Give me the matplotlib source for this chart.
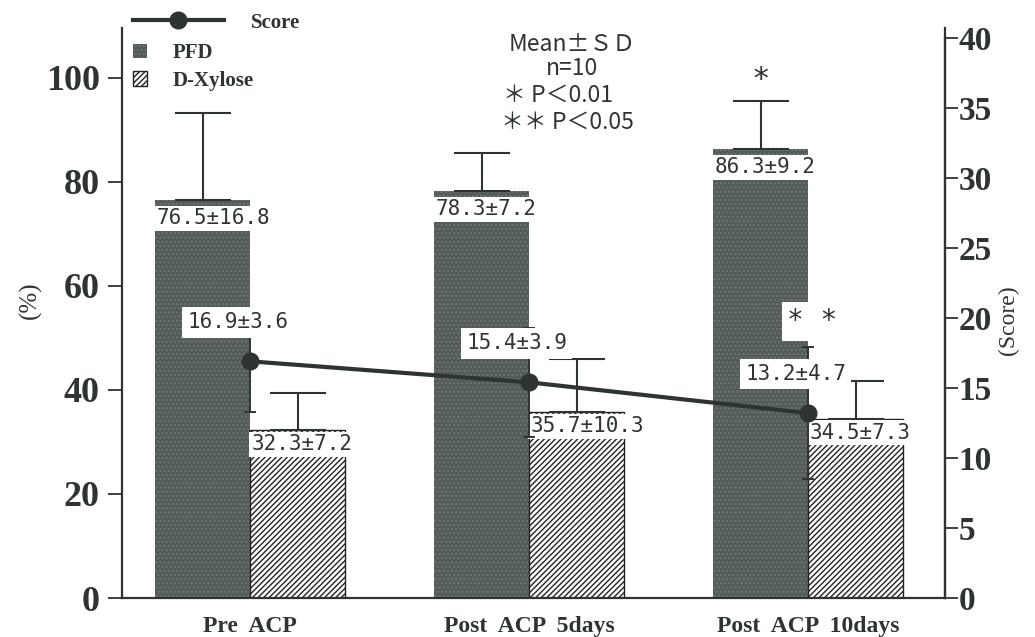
import numpy as np
import matplotlib.pyplot as plt
from matplotlib.lines import Line2D
from matplotlib.patches import Patch

groups = ["Pre  ACP", "Post  ACP  5days", "Post  ACP  10days"]
pfd_mean = [76.5, 78.3, 86.3]
pfd_sd = [16.8, 7.2, 9.2]
xyl_mean = [32.3, 35.7, 34.5]
xyl_sd = [7.2, 10.3, 7.3]
score_mean = [16.9, 15.4, 13.2]
score_sd = [3.6, 3.9, 4.7]

ink = '#2e3431'
pfd_color = '#535c57'
dots = '#6f7873'
serif = 'Liberation Serif'
mono = 'DejaVu Sans Mono'
gothic = ['Noto Sans CJK JP', 'DejaVu Sans']

plt.rcParams['hatch.linewidth'] = 1.0

fig = plt.figure(figsize=(10.35, 6.37), dpi=100)
ax = fig.add_axes([0.118, 0.0612, 0.795, 0.895])
ax2 = ax.twinx()

x = np.arange(len(groups))
w = 0.34
ymax = 109.6

ax.bar(x - w / 2, pfd_mean, w, color=pfd_color, edgecolor=dots, hatch='....',
       linewidth=0, zorder=2)
ax.bar(x + w / 2, xyl_mean, w, color='white', edgecolor='#222222',
       hatch='//////', linewidth=1.0, zorder=2)

ax.errorbar(x - w / 2, pfd_mean, yerr=[np.zeros(3), pfd_sd], fmt='none',
            ecolor=ink, elinewidth=1.5, capsize=20, capthick=1.5, zorder=3)
ax.errorbar(x + w / 2, xyl_mean, yerr=[np.zeros(3), xyl_sd], fmt='none',
            ecolor=ink, elinewidth=1.5, capsize=20, capthick=1.5, zorder=3)

# value labels just under the bar tops
for i in range(3):
    ax.annotate('{}±{}'.format(pfd_mean[i], pfd_sd[i]), (x[i] - w, pfd_mean[i]),
                xytext=(1, -6), textcoords='offset points', ha='left', va='top',
                fontsize=15, family=mono, color=ink, zorder=5,
                bbox=dict(boxstyle='square,pad=0.12', fc='white', ec='none'))
    ax.annotate('{}±{}'.format(xyl_mean[i], xyl_sd[i]), (x[i], xyl_mean[i]),
                xytext=(1, -3), textcoords='offset points', ha='left', va='top',
                fontsize=15, family=mono, color=ink, zorder=5,
                bbox=dict(boxstyle='square,pad=0.12', fc='white', ec='none'))

ax.annotate('*', (x[2] - w / 2, pfd_mean[2] + pfd_sd[2]), xytext=(0, 5),
            textcoords='offset points', ha='center', va='bottom',
            fontsize=22, family=mono, color=ink)

ax.set_xlim(-0.459, 2.49)
ax.set_ylim(0, ymax)
ax.set_yticks([0, 20, 40, 60, 80, 100])
ax.set_xticks(x)
ax.set_xticklabels(groups, family=serif, fontweight='bold', fontsize=17, color=ink)
ax.tick_params(axis='x', length=0, pad=13)
ax.tick_params(axis='y', length=10, width=1.3, color=ink, pad=6)
for lab in ax.get_yticklabels():
    lab.set_family(serif)
    lab.set_fontweight('bold')
    lab.set_fontsize(26)
    lab.set_color(ink)
ax.set_ylabel('(%)', family=serif, fontsize=18, color=ink)
ax.yaxis.set_label_coords(-0.098, 0.523)

# score on the right axis
ax2.set_ylim(0, ymax * 5.2 / 14)
ax2.errorbar(x, score_mean, yerr=score_sd, fmt='none', ecolor=ink,
             elinewidth=1.4, capsize=4, capthick=1.4, zorder=3)
ax2.plot(x, score_mean, color=ink, lw=3, marker='o', markersize=12, zorder=4)
for i in range(3):
    ax2.annotate('{}±{}'.format(score_mean[i], score_sd[i]), (x[i], score_mean[i]),
                 xytext=(-9, 28), textcoords='offset points', ha='center', va='center',
                 fontsize=15, family=mono, color=ink, zorder=5,
                 bbox=dict(boxstyle='square,pad=0.25', fc='white', ec='none'))
ax2.annotate('* *', (x[2], score_mean[2]), xytext=(3, 66), textcoords='offset points',
             ha='center', va='center', fontsize=20, family=mono, color=ink, zorder=5,
             bbox=dict(boxstyle='square,pad=0.2', fc='white', ec='none'))
ax2.set_yticks(range(0, 41, 5))
ax2.spines['right'].set_bounds(0, 40)
ax2.tick_params(axis='y', length=9, width=1.3, color=ink, pad=1)
for lab in ax2.get_yticklabels():
    lab.set_family(serif)
    lab.set_fontweight('bold')
    lab.set_fontsize(24)
    lab.set_color(ink)
ax2.set_ylabel('(Score)', family=serif, fontsize=17, color=ink)
ax2.yaxis.set_label_coords(1.064, 0.488)

for a in (ax, ax2):
    a.spines['top'].set_visible(False)
    for s in ('left', 'right', 'bottom'):
        a.spines[s].set_linewidth(1.6)
        a.spines[s].set_color(ink)
ax2.spines['left'].set_visible(False)
ax2.spines['bottom'].set_visible(False)

# legends
leg1 = fig.legend([Line2D([], [], color=ink, lw=3, marker='o', markersize=12)], ['Score'],
                  loc='upper left', bbox_to_anchor=(0.114, 1.003), frameon=False,
                  handlelength=4.4, handletextpad=1.3, borderpad=0.2,
                  prop=dict(family=serif, weight='bold', size=15))
for t in leg1.get_texts():
    t.set_color(ink)
leg2 = fig.legend([Patch(fc=pfd_color, ec=dots, hatch='....', lw=0),
                   Patch(fc='white', ec='#222222', hatch='//////')],
                  ['PFD', 'D-Xylose'], loc='upper left', bbox_to_anchor=(0.114, 0.955),
                  frameon=False, handlelength=0.7, handleheight=0.7,
                  handletextpad=1.2, labelspacing=0.35, borderpad=0.2,
                  prop=dict(family=serif, weight='bold', size=15))
for t in leg2.get_texts():
    t.set_color(ink)

fig.text(0.553, 0.93, 'Mean±ＳＤ', ha='center', va='center', fontsize=16.5,
         family=gothic, color=ink)
fig.text(0.553, 0.893, 'n=10', ha='center', va='center', fontsize=16.5,
         family=gothic, color=ink)
fig.text(0.486, 0.851, '＊ P＜0.01', ha='left', va='center', fontsize=16.5,
         family=gothic, color=ink)
fig.text(0.484, 0.808, '＊＊ P＜0.05', ha='left', va='center', fontsize=16.5,
         family=gothic, color=ink)

fig.savefig('out.png', dpi=100)
